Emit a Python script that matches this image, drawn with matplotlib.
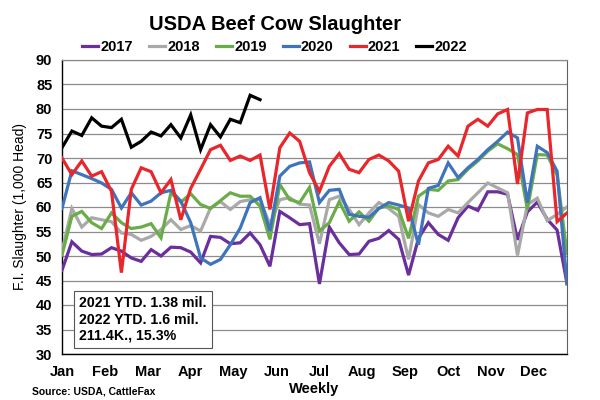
import matplotlib
matplotlib.use("Agg")
import matplotlib.pyplot as plt
import numpy as np

plt.rcParams['font.family'] = ['Liberation Sans', 'DejaVu Sans']

years = ["2017", "2018", "2019", "2020", "2021", "2022"]
colors = ["#6a2f9c", "#a9a9a9", "#6aad48", "#3f74bb", "#e8262b", "#000000"]
months = ["Jan", "Feb", "Mar", "Apr", "May", "Jun", "Jul", "Aug", "Sep", "Oct", "Nov", "Dec"]

s2017 = [47.1, 52.9, 51.0, 50.3, 50.4, 51.7, 51.0, 49.6, 48.9, 51.3, 50.0, 51.8, 51.7, 50.8,
         48.6, 54.0, 53.8, 52.5, 52.7, 54.7, 52.3, 47.9, 59.1, 57.8, 56.4, 56.6, 44.3, 55.9,
         52.7, 50.3, 50.4, 53.0, 53.6, 55.2, 53.4, 46.1, 53.6, 56.8, 54.4, 53.2, 57.8, 60.2,
         59.3, 63.1, 63.1, 62.6, 53.3, 59.0, 61.0, 57.5, 55.3, 44.4]
s2018 = [51.0, 59.7, 55.9, 57.8, 57.4, 57.0, 54.7, 54.4, 53.2, 54.0, 55.4, 57.4, 55.4, 56.2,
         55.1, 59.8, 61.1, 59.5, 61.1, 61.5, 61.5, 56.4, 61.5, 61.9, 60.6, 60.4, 52.5, 61.5,
         62.2, 59.5, 56.4, 58.8, 60.9, 59.7, 58.1, 49.3, 60.5, 58.8, 58.1, 59.5, 58.8, 60.9,
         62.9, 64.9, 63.9, 62.9, 50.1, 60.5, 61.8, 57.2, 58.5, 60.0]
s2019 = [50.2, 58.1, 59.1, 56.8, 55.6, 58.8, 56.8, 55.6, 55.9, 56.6, 53.7, 62.9, 61.0, 62.7,
         60.5, 59.7, 61.3, 62.9, 62.2, 62.2, 60.2, 53.4, 64.6, 61.5, 60.9, 64.0, 55.1, 56.8,
         61.1, 57.1, 59.0, 57.1, 59.8, 60.2, 59.5, 53.6, 62.2, 63.6, 63.4, 65.3, 65.6, 67.7,
         69.4, 71.4, 72.9, 71.9, 70.7, 59.5, 70.7, 70.6, 66.5, 50.5]
s2020 = [59.7, 67.4, 66.6, 65.8, 64.9, 63.6, 59.8, 62.9, 60.4, 61.2, 62.9, 63.4, 61.2, 56.8,
         49.6, 48.3, 49.3, 52.3, 55.7, 60.9, 61.9, 55.1, 66.3, 68.3, 69.0, 69.2, 60.9, 63.4,
         63.6, 58.5, 58.1, 57.9, 59.7, 60.9, 60.4, 59.8, 52.3, 63.8, 64.4, 69.0, 66.0, 68.0,
         69.7, 71.7, 73.4, 75.3, 74.1, 60.9, 72.4, 71.1, 67.3, 44.3]
s2021 = [70.0, 66.6, 69.4, 66.3, 67.2, 63.2, 46.6, 63.6, 68.0, 67.2, 62.9, 65.6, 57.4, 63.8,
         67.7, 71.7, 72.6, 69.5, 70.4, 69.5, 70.6, 59.5, 72.1, 75.1, 73.4, 67.0, 63.2, 68.3,
         70.9, 67.7, 67.0, 69.7, 70.6, 69.4, 67.3, 57.1, 65.3, 69.0, 69.7, 72.4, 70.4, 76.5,
         77.9, 76.5, 79.0, 79.9, 64.7, 79.2, 79.9, 79.9, 57.0, 58.8]
s2022 = [72.1, 75.5, 74.6, 78.2, 76.5, 76.2, 77.9, 72.2, 73.4, 75.3, 74.5, 76.8, 74.1, 78.8,
         71.7, 76.8, 74.3, 77.9, 77.2, 82.8, 81.9]

series = [s2017, s2018, s2019, s2020, s2021, s2022]

fig = plt.figure(figsize=(6, 4), dpi=100)
ax = fig.add_axes([0.1033, 0.115, 0.8417, 0.735])

for name, vals, c in zip(years, series, colors):
    ax.plot(np.arange(len(vals)), vals, color=c, lw=2.3, label=name,
            solid_joinstyle='miter', zorder=3)

ax.set_xlim(0, 51)
ax.set_ylim(30, 90)
ax.set_yticks(np.arange(30, 91, 5))
ax.set_yticklabels([str(v) for v in range(30, 91, 5)], fontsize=10.5, fontweight='bold')
ax.set_xticks(np.arange(12) * 52 / 12)
ax.set_xticklabels(months, fontsize=10.5, fontweight='bold')
ax.tick_params(axis='x', length=0, pad=8)
ax.tick_params(axis='y', length=0, pad=7)
ax.grid(axis='y', color='#8c8c8c', lw=0.9, zorder=0)
ax.set_axisbelow(True)
for side in ['left', 'bottom']:
    ax.spines[side].set_color('black')
    ax.spines[side].set_linewidth(1.0)
ax.spines['right'].set_color('#606060')
ax.spines['top'].set_color('#8c8c8c')
ax.spines['top'].set_linewidth(0.9)

ax.set_ylabel("F.I. Slaughter (1,000 Head)", fontsize=10, labelpad=6)
ax.set_xlabel("Weekly", fontsize=10.5, fontweight='bold', labelpad=2)

fig.text(0.458, 0.9375, "USDA Beef Cow Slaughter", ha='center', va='center',
         fontsize=14.5, fontweight='bold')

leg = fig.legend(loc='center', bbox_to_anchor=(0.458, 0.8825), ncol=6, frameon=False,
                 handlelength=1.1, handletextpad=0.15, columnspacing=1.1,
                 prop={'weight': 'bold', 'size': 10.5})
for h in leg.get_lines():
    h.set_linewidth(2.3)

ax.text(0.034, 0.117, "2021 YTD. 1.38 mil.\n2022 YTD. 1.6 mil.\n211.4K., 15.3%",
        transform=ax.transAxes, ha='left', va='center', fontsize=10.2, fontweight='bold',
        linespacing=1.2,
        bbox=dict(boxstyle='square,pad=0.35', facecolor='white', edgecolor='#555555', lw=0.8),
        zorder=5)

fig.text(0.053, 0.008, "Source: USDA, CattleFax", ha='left', va='bottom',
         fontsize=7.5, fontweight='bold')

fig.savefig("out.png", dpi=100)
